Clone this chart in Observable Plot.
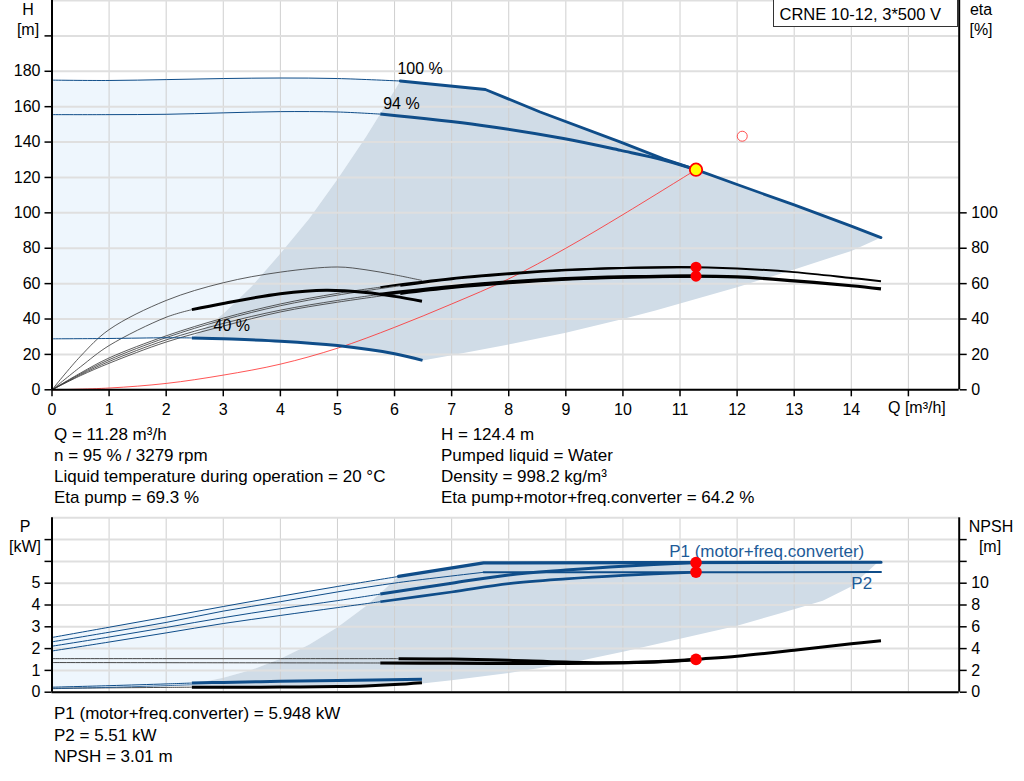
<!DOCTYPE html>
<html><head><meta charset="utf-8">
<script src="https://cdn.jsdelivr.net/npm/d3@7"></script>
<script src="https://cdn.jsdelivr.net/npm/@observablehq/plot@0.6"></script>
<style>
body{margin:0;background:#fff;font-family:"Liberation Sans",Arial,sans-serif;}
#wrap{position:relative;width:1024px;height:781px;overflow:hidden;background:#fff;}
#wrap svg{position:absolute;left:0;overflow:visible;}
.t{position:absolute;white-space:nowrap;color:#000;line-height:1;font-size:17px;}
.c{transform:translate(-50%,-50%);}
.l{transform:translate(0,-50%);}
.box{position:absolute;left:772.5px;top:-1px;width:185px;height:28px;border:1px solid #333;background:#fff;box-sizing:border-box;font-size:16.5px;line-height:28px;padding-left:6px;white-space:nowrap;}
</style></head><body><div id="wrap"></div>
<script>
// ---------- axes / ticks ----------
const qTicks = [0,1,2,3,4,5,6,7,8,9,10,11,12,13,14,15];
const qDomain = [0, 15.89];
const hTicks = [0,20,40,60,80,100,120,140,160,180,200];
const hGrid = [0,20,40,60,80,100,120,140,160,180,200,220];
const hDomain = [0, 220];
const etaTicks = [0,20,40,60,80,100];
const pTicks = [0,1,2,3,4,5,6,7];
const pGrid = [0,1,2,3,4,5,6,7,8];
const pDomain = [0, 8];
const npshPerKw = 2; // NPSH [m] axis: 2 m per kW gridline

// ---------- head curves [Q m³/h, H m] ----------
const head100Thin  = [[0,175],[1,174.8],[2,175.3],[3,175.9],[4,176.2],[5,175.9],[6.1,174.5]];
const head100Thick = [[6.1,174.5],[7.59,169.7],[8.55,157],[9.96,140],[10.71,130.5],[11.28,124.4],[12,116],[13,104.5],[14,92.5],[14.52,86]];
const head94Thin   = [[0,155.5],[1,155.5],[2,155.7],[3,156.5],[4,157.2],[5,157],[5.75,155.8]];
const head94Thick  = [[5.75,155.8],[7.5,149.5],[8.96,142],[9.96,135.3],[10.71,129.9],[11.28,124.4]];
const head40Thin   = [[0,28.8],[1,29],[2,29.4],[2.45,29.3]];
const head40Thick  = [[2.45,29.3],[3,28.8],[4,27.5],[5,25],[6,20.4],[6.49,16.6]];
const rangeLeftH   = [[2.45,29.3],[3,43],[3.5,58.5],[4,77],[4.5,96.5],[5,119],[5.5,143],[5.75,156],[6.1,174.5]];
const rangeLowH    = [[6.49,16.6],[7,19.5],[8.06,26],[9,32.2],[10,40],[10.57,44.8],[12,58],[13,68],[14,78.5],[14.52,86]];
const systemH      = [[0,0],[1,1],[2,3.6],[3,8.3],[4,14.5],[5,23.5],[6,35.3],[7,48.5],[8,62.7],[9,80],[10,99],[11.28,124.4]];

// ---------- efficiency curves [Q, eta %] ----------
const etaPump100Thin  = [[0,0],[0.5,9],[1,17],[2,29.5],[3,39.5],[4,47.5],[5,53.5],[6.1,58.8]];
const etaPump100Thick = [[6.1,58.8],[7,62.5],[8,65.3],[9,67.5],[10,68.8],[11,69.4],[12,68.6],[13,66.5],[14,63.2],[14.52,61.4]];
const etaPump94Thin   = [[0,0],[0.5,9.5],[1,18],[2,30.5],[3,40.5],[4,48.5],[5,54.5],[5.75,58]];
const etaPump94Thick  = [[5.75,58],[7,63],[8,65.8],[9,67.8],[10,68.9],[11.28,69.3]];
const etaTot100Thin   = [[0,0],[0.5,8],[1,15],[2,27],[3,36],[4,44],[5,49.5],[6.1,54.5]];
const etaTot100Thick  = [[6.1,54.5],[7,57.8],[8,60.5],[9,62.5],[10,63.6],[11,64.2],[12,63.8],[13,61.6],[14,58.8],[14.52,57]];
const etaTot94Thin    = [[0,0],[0.5,8.5],[1,16],[2,28.2],[3,37.5],[4,45],[5,50.5],[5.75,54]];
const etaTot94Thick   = [[5.75,54],[7,58.3],[8,61],[9,62.8],[10,63.8],[11.28,64.2]];
const etaPump40       = [[0,0],[0.5,19],[1,34],[2,50.5],[3,60.5],[4,66.5],[5,69.4],[5.5,67.8],[6,65],[6.48,61.8]];
const etaTot40Thin    = [[0,0],[0.5,13],[1,25],[2,41],[2.45,45.3]];
const etaTot40Thick   = [[2.45,45.3],[3,48.8],[4,54.3],[4.8,56.3],[5.5,55],[6,52.8],[6.48,50]];

// ---------- power / NPSH curves [Q, P kW] and [Q, NPSH m] ----------
const p1_100Thin  = [[0,2.51],[1,2.98],[2,3.45],[3,3.93],[4,4.4],[5,4.85],[6.07,5.31]];
const p1_100Thick = [[6.07,5.31],[7.56,5.93],[14.52,5.96]];
const p2_100Thin  = [[0,2.31],[1,2.75],[2,3.2],[3,3.72],[4,4.15],[5,4.6],[6.07,5.03],[7.56,5.5]];
const p2_100Thick = [[7.56,5.5],[14.52,5.51]];
const p1_94Thin   = [[0,2.11],[1,2.53],[2,2.97],[3,3.42],[4,3.83],[5,4.2],[5.75,4.5]];
const p1_94Thick  = [[5.75,4.5],[7,5.0],[8,5.38],[9,5.6],[10,5.78],[11.28,5.948]];
const p2_94Thin   = [[0,1.89],[1,2.3],[2,2.72],[3,3.15],[4,3.52],[5,3.88],[5.75,4.15]];
const p2_94Thick  = [[5.75,4.15],[7,4.6],[8,4.98],[9,5.2],[10,5.36],[11.28,5.51]];
const p40Thin     = [[0,0.23],[1,0.3],[2,0.38],[2.45,0.42]];
const p40Thick    = [[2.45,0.42],[3,0.45],[4,0.5],[5,0.54],[6.48,0.59]];
const p40bThin    = [[0,0.16],[1,0.22],[2,0.3],[2.45,0.34]];
const npsh100Thin  = [[0,3.08],[2,3.08],[4,3.08],[6.07,3.08]];
const npsh100Thick = [[6.07,3.08],[7,3.05],[8,2.92],[9,2.76],[10,2.7],[11,2.88],[11.28,3.01],[12,3.3],[13,3.85],[14,4.45],[14.52,4.72]];
const npsh94Thin   = [[0,2.72],[3,2.7],[5.75,2.68]];
const npsh94Thick  = [[5.75,2.68],[7,2.66],[8,2.65],[9,2.64],[10,2.7],[10.7,2.82],[11.28,3.01]];
const npsh40Thin   = [[0,0.36],[1,0.4],[2,0.44],[2.45,0.46]];
const npsh40Thick  = [[2.45,0.46],[3,0.46],[4,0.47],[5,0.52],[5.5,0.58],[6,0.7],[6.48,0.87]];
const rangeLeftP   = [[2.45,0.37],[3,0.66],[3.5,1.03],[4,1.54],[4.5,2.18],[5,2.98],[5.5,3.95],[6.07,5.31]];
const rangeLowP    = [[2.45,0.22],[4,0.23],[5,0.26],[6,0.33],[6.48,0.4],[7,0.55],[8,0.88],[9,1.3],[10,1.85],[11,2.45],[12,3.05],[12.73,3.6],[13.5,4.2],[14,4.85],[14.45,5.93]];

// ---------- duty point ----------
const dutyQ = 11.28, dutyH = 124.4, dutyEtaPump = 69.3, dutyEtaTot = 64.2;
const dutyP1 = 5.948, dutyP2 = 5.51, dutyNPSH = 3.01;
const requestedPoint = [[12.09, 143.3]];

const speedLabels = [{t:"100 %", q:6.05, v:181.6},{t:"94 %", q:5.8, v:161.8},{t:"40 %", q:2.83, v:35.9}];
const powerLabels = [{t:"P1 (motor+freq.converter)", q:10.81, v:6.45},{t:"P2", q:14.0, v:4.99}];

// ---------- styles ----------
const FONT = '"Liberation Sans", Arial, sans-serif';
const BLUE = "#0f4d89", LIGHT = "#eef6fd", GRAY = "#d0dce7", THIN = "#333";
const X = d => d[0], Y = d => d[1];
const rev = a => a.slice().reverse();

const L = (data, o) => Plot.line(data, {x: X, y: Y, curve: "catmull-rom", strokeLinecap: "butt", ...o});

const lightTop = [...head100Thin, ...rev(rangeLeftH), ...rev(head40Thin)];
const grayTop  = [...rangeLeftH, ...head100Thick, ...rev(rangeLowH), ...rev(head40Thick)];

const topPlot = Plot.plot({
  width: 1024, height: 420,
  marginLeft: 51.5, marginRight: 65.3, marginTop: 0, marginBottom: 30.7,
  x: {domain: qDomain, axis: null},
  y: {domain: hDomain, axis: null},
  style: {fontFamily: FONT, fontSize: "16px", color: "#000", background: "transparent"},
  marks: [
    Plot.line(lightTop, {x: X, y: Y, fill: LIGHT, stroke: "none"}),
    Plot.line(grayTop, {x: X, y: Y, fill: GRAY, stroke: "none"}),
    Plot.gridX(qTicks, {stroke: "#cfcfcf", strokeOpacity: 1, strokeWidth: 1}),
    Plot.gridY(hGrid, {stroke: "#dfdfdf", strokeOpacity: 1, strokeWidth: 2}),
    // system curve
    L(systemH, {stroke: "#ff2a2a", strokeWidth: 0.8}),
    // efficiency
    L(etaPump40, {stroke: THIN, strokeWidth: 0.8}),
    L(etaTot40Thin, {stroke: THIN, strokeWidth: 0.8}),
    L(etaPump100Thin, {stroke: THIN, strokeWidth: 0.8}),
    L(etaPump94Thin, {stroke: THIN, strokeWidth: 0.8}),
    L(etaTot100Thin, {stroke: THIN, strokeWidth: 0.8}),
    L(etaTot94Thin, {stroke: THIN, strokeWidth: 0.8}),
    L(etaTot40Thick, {stroke: "#000", strokeWidth: 3}),
    L(etaPump100Thick, {stroke: "#000", strokeWidth: 2}),
    L(etaPump94Thick, {stroke: "#000", strokeWidth: 2}),
    L(etaTot100Thick, {stroke: "#000", strokeWidth: 3.2}),
    L(etaTot94Thick, {stroke: "#000", strokeWidth: 3.2}),
    // head
    L(head100Thin, {stroke: BLUE, strokeWidth: 1}),
    L(head94Thin, {stroke: BLUE, strokeWidth: 1}),
    L(head40Thin, {stroke: BLUE, strokeWidth: 1}),
    Plot.line(head100Thick, {x: X, y: Y, stroke: BLUE, strokeWidth: 2.8}),
    L(head94Thick, {stroke: BLUE, strokeWidth: 3}),
    L(head40Thick, {stroke: BLUE, strokeWidth: 3}),
    Plot.text(speedLabels, {x: "q", y: "v", text: "t", textAnchor: "start", fontSize: 16, fill: "#000"}),
    // axes
    Plot.axisX(qTicks, {anchor: "bottom", tickSize: 7, tickPadding: 6.5, strokeWidth: 1.5, fontSize: 16, label: null, tickFormat: d => d === 15 ? "" : String(d)}),
    Plot.axisY(hTicks, {anchor: "left", tickSize: 7, tickPadding: 4.5, strokeWidth: 1.5, fontSize: 16, label: null, tickFormat: d => d <= 180 ? String(d) : ""}),
    Plot.axisY(etaTicks, {anchor: "right", tickSize: 7, tickPadding: 5, strokeWidth: 1.5, fontSize: 16, label: null}),
    Plot.ruleX([qDomain[0], qDomain[1]], {stroke: "#000", strokeWidth: 2}),
    Plot.ruleY([hDomain[0]], {stroke: "#000", strokeWidth: 2}),
    // points
    Plot.dot(requestedPoint, {x: X, y: Y, r: 5, stroke: "#ff5050", strokeWidth: 1, fill: "none"}),
    Plot.dot([[dutyQ, dutyEtaPump],[dutyQ, dutyEtaTot]], {x: X, y: Y, r: 5.5, fill: "#ff0000", stroke: "none"}),
    Plot.dot([[dutyQ, dutyH]], {x: X, y: Y, r: 6.2, fill: "#ffff00", stroke: "#ff0000", strokeWidth: 1.8})
  ]
});
topPlot.style.top = "0px";

const lightBot = [...p1_100Thin, ...rev(rangeLeftP), ...rev(p40bThin)];
const grayBot  = [...rangeLeftP, ...p1_100Thick.slice(1), ...rev(rangeLowP)];
const N = d => d[1] / npshPerKw;

const botPlot = Plot.plot({
  width: 1024, height: 190,
  marginLeft: 51.5, marginRight: 65.3, marginTop: 7.3, marginBottom: 8.3,
  x: {domain: qDomain, axis: null},
  y: {domain: pDomain, axis: null},
  style: {fontFamily: FONT, fontSize: "16px", color: "#000", background: "transparent"},
  marks: [
    Plot.line(lightBot, {x: X, y: Y, fill: LIGHT, stroke: "none"}),
    Plot.line(grayBot, {x: X, y: Y, fill: GRAY, stroke: "none"}),
    Plot.gridX(qTicks, {stroke: "#cfcfcf", strokeOpacity: 1, strokeWidth: 1}),
    Plot.gridY(pGrid, {stroke: "#dfdfdf", strokeOpacity: 1, strokeWidth: 2}),
    // NPSH (right axis)
    L(npsh100Thin, {y: N, stroke: THIN, strokeWidth: 0.9}),
    L(npsh94Thin, {y: N, stroke: THIN, strokeWidth: 0.9}),
    L(npsh40Thin, {y: N, stroke: THIN, strokeWidth: 0.9}),
    L(npsh100Thick, {y: N, stroke: "#000", strokeWidth: 3}),
    L(npsh94Thick, {y: N, stroke: "#000", strokeWidth: 3.2}),
    L(npsh40Thick, {y: N, stroke: "#000", strokeWidth: 3}),
    // power
    L(p1_100Thin, {stroke: BLUE, strokeWidth: 1}),
    L(p2_100Thin, {stroke: BLUE, strokeWidth: 1}),
    L(p1_94Thin, {stroke: BLUE, strokeWidth: 1}),
    L(p2_94Thin, {stroke: BLUE, strokeWidth: 1}),
    L(p40Thin, {stroke: BLUE, strokeWidth: 1}),
    L(p40bThin, {stroke: BLUE, strokeWidth: 0.8}),
    Plot.line(p1_100Thick, {x: X, y: Y, stroke: BLUE, strokeWidth: 3.2}),
    Plot.line(p2_100Thick, {x: X, y: Y, stroke: BLUE, strokeWidth: 2}),
    L(p1_94Thick, {stroke: BLUE, strokeWidth: 3}),
    L(p2_94Thick, {stroke: BLUE, strokeWidth: 2.6}),
    L(p40Thick, {stroke: BLUE, strokeWidth: 3}),
    Plot.text(powerLabels, {x: "q", y: "v", text: "t", textAnchor: "start", fontSize: 17, fill: "#1d5b98"}),
    // axes
    Plot.axisY(pTicks, {anchor: "left", tickSize: 7, tickPadding: 4.5, strokeWidth: 1.5, fontSize: 16, label: null, tickFormat: d => d <= 5 ? String(d) : ""}),
    Plot.axisY(pTicks, {anchor: "right", tickSize: 7, tickPadding: 5, strokeWidth: 1.5, fontSize: 16, label: null, tickFormat: d => d * npshPerKw <= 10 ? String(d * npshPerKw) : ""}),
    Plot.ruleX([qDomain[0], qDomain[1]], {stroke: "#000", strokeWidth: 2}),
    Plot.ruleY([pDomain[0]], {stroke: "#000", strokeWidth: 2}),
    Plot.dot([[dutyQ, dutyP1],[dutyQ, dutyP2]], {x: X, y: Y, r: 5.8, fill: "#ff0000", stroke: "none"}),
    Plot.dot([[dutyQ, dutyNPSH]], {x: X, y: N, r: 5.8, fill: "#ff0000", stroke: "none"})
  ]
});
botPlot.style.top = "510px";

const wrap = document.getElementById("wrap");
wrap.appendChild(topPlot);
wrap.appendChild(botPlot);

function txt(s, x, y, cls, size) {
  const d = document.createElement("div");
  d.className = "t " + cls;
  d.style.left = x + "px"; d.style.top = y + "px";
  if (size) d.style.fontSize = size + "px";
  d.textContent = s;
  wrap.appendChild(d);
}
txt("H", 28, 10, "c", 16); txt("[m]", 28, 30, "c", 16);
txt("eta", 981, 10, "c", 16); txt("[%]", 981, 30, "c", 16);
txt("Q [m³/h]", 888, 408, "l", 16);
const infoLeft = ["Q = 11.28 m³/h", "n = 95 % / 3279 rpm", "Liquid temperature during operation = 20 °C", "Eta pump = 69.3 %"];
const infoRight = ["H = 124.4 m", "Pumped liquid = Water", "Density = 998.2 kg/m³", "Eta pump+motor+freq.converter = 64.2 %"];
infoLeft.forEach((s, i) => txt(s, 54, 434 + 21 * i, "l"));
infoRight.forEach((s, i) => txt(s, 441, 434 + 21 * i, "l"));
txt("P", 25, 527, "c", 16); txt("[kW]", 25, 547, "c", 16);
txt("NPSH", 991, 527, "c", 16); txt("[m]", 990, 547, "c", 16);
const infoBottom = ["P1 (motor+freq.converter) = 5.948 kW", "P2 = 5.51 kW", "NPSH = 3.01 m"];
infoBottom.forEach((s, i) => txt(s, 54, 713 + 21.5 * i, "l"));
const box = document.createElement("div");
box.className = "box"; box.textContent = "CRNE 10-12, 3*500 V";
wrap.appendChild(box);
</script></body></html>
